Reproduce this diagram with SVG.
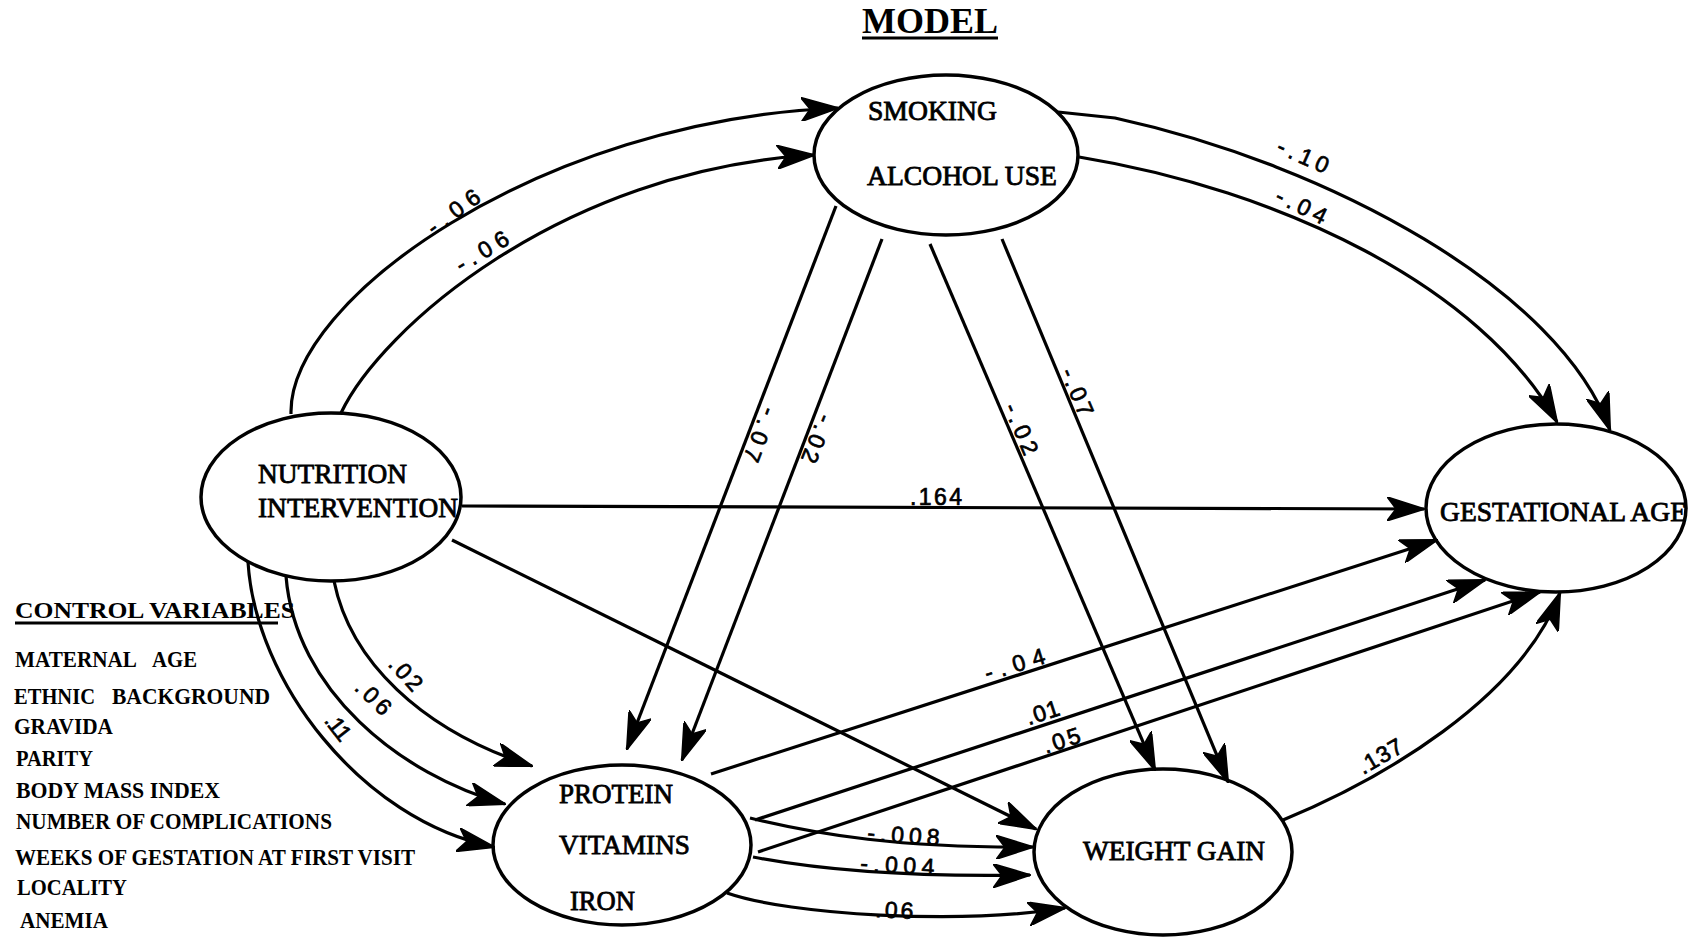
<svg xmlns="http://www.w3.org/2000/svg" width="1703" height="941" viewBox="0 0 1703 941">
  <defs>
    <marker id="arrow" markerUnits="userSpaceOnUse" markerWidth="38" markerHeight="24" viewBox="0 0 38 24" refX="37" refY="12" orient="auto">
      <path d="M0,0 L38,12 L0,24 L9,12 Z" fill="#000" stroke="#000" stroke-width="1.5" stroke-linejoin="round"/>
    </marker>
    <style>
      .node ellipse { fill: #fff; stroke: #000; stroke-width: 3.5; }
      .lbl { font-family: "Liberation Serif", "Times New Roman", serif; font-size: 27px; fill: #000; stroke: #000; stroke-width: 0.8; }
      .edge { fill: none; stroke: #000; stroke-width: 3.2; marker-end: url(#arrow); }
      .coef { font-family: "Liberation Sans", Arial, sans-serif; font-size: 23px; fill: #000; stroke: #000; stroke-width: 0.7; text-anchor: middle; }
      .ctl { font-family: "Liberation Serif", "Times New Roman", serif; font-weight: bold; font-size: 23px; fill: #000; }
      .rule { stroke: #000; stroke-width: 3; }
    </style>
  </defs>

  <rect width="1703" height="941" fill="#fff"/>

  <!-- title -->
  <g id="title">
    <text x="862" y="33" font-family="Liberation Serif, serif" font-weight="bold" font-size="36" textLength="136" lengthAdjust="spacingAndGlyphs">MODEL</text>
    <line class="rule" x1="862" y1="38" x2="998" y2="38"/>
  </g>

  <!-- nodes -->
  <g id="node-smoking" class="node">
    <ellipse cx="946" cy="155" rx="132" ry="80"/>
    <text class="lbl" x="868" y="120" textLength="129" lengthAdjust="spacingAndGlyphs">SMOKING</text>
    <text class="lbl" x="867" y="185" textLength="190" lengthAdjust="spacingAndGlyphs">ALCOHOL USE</text>
  </g>
  <g id="node-nutrition" class="node">
    <ellipse cx="331" cy="497" rx="130" ry="84"/>
    <text class="lbl" x="258" y="483" textLength="149" lengthAdjust="spacingAndGlyphs">NUTRITION</text>
    <text class="lbl" x="258" y="517" textLength="200" lengthAdjust="spacingAndGlyphs">INTERVENTION</text>
  </g>
  <g id="node-gestational" class="node">
    <ellipse cx="1556" cy="508" rx="130" ry="84"/>
    <text class="lbl" x="1440" y="521" textLength="247" lengthAdjust="spacingAndGlyphs">GESTATIONAL AGE</text>
  </g>
  <g id="node-protein" class="node">
    <ellipse cx="622" cy="845" rx="129" ry="80"/>
    <text class="lbl" x="559" y="803" textLength="114" lengthAdjust="spacingAndGlyphs">PROTEIN</text>
    <text class="lbl" x="559" y="854" textLength="131" lengthAdjust="spacingAndGlyphs">VITAMINS</text>
    <text class="lbl" x="570" y="910" textLength="65" lengthAdjust="spacingAndGlyphs">IRON</text>
  </g>
  <g id="node-weight" class="node">
    <ellipse cx="1163" cy="852" rx="129" ry="83"/>
    <text class="lbl" x="1083" y="860" textLength="182" lengthAdjust="spacingAndGlyphs">WEIGHT GAIN</text>
  </g>

  <!-- connectors -->
  <g id="connectors">
    <!-- nutrition -> smoking -->
    <path class="edge" d="M291,414 C288,300 540,120 838,108"/>
    <path class="edge" d="M341,413 C380,330 560,170 814,155"/>
    <!-- smoking -> gestational age -->
    <path class="edge" d="M1058,112 L1115,118 C1330,165 1560,290 1610,430"/>
    <path class="edge" d="M1079,157 C1280,190 1480,285 1557,422"/>
    <!-- smoking -> protein -->
    <path class="edge" d="M836,206 L627,749"/>
    <path class="edge" d="M882,239 L682,760"/>
    <!-- smoking -> weight gain -->
    <path class="edge" d="M930,244 L1155,770"/>
    <path class="edge" d="M1002,239 L1228,782"/>
    <!-- nutrition -> gestational age -->
    <path class="edge" d="M462,506 L1424,509"/>
    <!-- nutrition -> weight gain -->
    <path class="edge" d="M452,540 L1036,829"/>
    <!-- nutrition -> protein -->
    <path class="edge" d="M334,581 C350,660 420,730 532,766"/>
    <path class="edge" d="M286,576 C295,690 400,775 505,804"/>
    <path class="edge" d="M248,562 C255,680 360,820 494,847"/>
    <!-- protein -> gestational age -->
    <path class="edge" d="M711,774 L1437,540"/>
    <path class="edge" d="M755,820 L1485,580"/>
    <path class="edge" d="M758,852 L1540,592"/>
    <!-- protein -> weight gain -->
    <path class="edge" d="M750,818 C820,835 900,848 1033,847"/>
    <path class="edge" d="M753,857 C830,872 920,877 1030,875"/>
    <path class="edge" d="M727,893 C790,915 960,925 1065,908"/>
    <!-- weight gain -> gestational age -->
    <path class="edge" d="M1283,820 C1380,780 1520,700 1560,593"/>

    <!-- path coefficients -->
    <text class="coef" transform="translate(458,218) rotate(-36)" textLength="60" lengthAdjust="spacing">-.06</text>
    <text class="coef" transform="translate(486,258) rotate(-31)" textLength="58" lengthAdjust="spacing">-.06</text>
    <text class="coef" transform="translate(1300,163) rotate(24)" textLength="54" lengthAdjust="spacing">-.10</text>
    <text class="coef" transform="translate(1298,213) rotate(26)" textLength="54" lengthAdjust="spacing">-.04</text>
    <text class="coef" transform="translate(753,432) rotate(111)" textLength="56" lengthAdjust="spacing">-.07</text>
    <text class="coef" transform="translate(810,436) rotate(112)" textLength="50" lengthAdjust="spacing">-.02</text>
    <text class="coef" transform="translate(1014,432) rotate(67)" textLength="54" lengthAdjust="spacing">-.02</text>
    <text class="coef" transform="translate(1070,395) rotate(67)" textLength="50" lengthAdjust="spacing">-.07</text>
    <text class="coef" x="936" y="505" textLength="52" lengthAdjust="spacing">.164</text>
    <text class="coef" transform="translate(1017,672) rotate(-17)" textLength="62" lengthAdjust="spacing">-.04</text>
    <text class="coef" transform="translate(1045,720) rotate(-18)" textLength="34" lengthAdjust="spacing">.01</text>
    <text class="coef" transform="translate(1064,748) rotate(-18)" textLength="38" lengthAdjust="spacing">.05</text>
    <text class="coef" transform="translate(903,843) rotate(4)" textLength="72" lengthAdjust="spacing">-.008</text>
    <text class="coef" transform="translate(897,873) rotate(3)" textLength="74" lengthAdjust="spacing">-.004</text>
    <text class="coef" transform="translate(894,918) rotate(3)" textLength="38" lengthAdjust="spacing">.06</text>
    <text class="coef" transform="translate(1384,763) rotate(-30)" textLength="48" lengthAdjust="spacing">.137</text>
    <text class="coef" transform="translate(400,679) rotate(48)" textLength="38" lengthAdjust="spacing">.02</text>
    <text class="coef" transform="translate(368,703) rotate(44)" textLength="40" lengthAdjust="spacing">.06</text>
    <text class="coef" transform="translate(332,732) rotate(52)" textLength="28" lengthAdjust="spacing">.11</text>
  </g>

  <!-- control variables list -->
  <g id="control-variables">
    <text class="ctl" x="15" y="618" font-size="25" textLength="280" lengthAdjust="spacingAndGlyphs">CONTROL VARIABLES</text>
    <line class="rule" x1="15" y1="623" x2="278" y2="623"/>
    <text class="ctl" x="15" y="667" textLength="122" lengthAdjust="spacingAndGlyphs">MATERNAL</text>
    <text class="ctl" x="152" y="667" textLength="45" lengthAdjust="spacingAndGlyphs">AGE</text>
    <text class="ctl" x="14" y="704" textLength="81" lengthAdjust="spacingAndGlyphs">ETHNIC</text>
    <text class="ctl" x="112" y="704" textLength="158" lengthAdjust="spacingAndGlyphs">BACKGROUND</text>
    <text class="ctl" x="14" y="734" textLength="99" lengthAdjust="spacingAndGlyphs">GRAVIDA</text>
    <text class="ctl" x="16" y="766" textLength="77" lengthAdjust="spacingAndGlyphs">PARITY</text>
    <text class="ctl" x="16" y="798" textLength="204" lengthAdjust="spacingAndGlyphs">BODY MASS INDEX</text>
    <text class="ctl" x="16" y="829" textLength="316" lengthAdjust="spacingAndGlyphs">NUMBER OF COMPLICATIONS</text>
    <text class="ctl" x="15" y="865" textLength="400" lengthAdjust="spacingAndGlyphs">WEEKS OF GESTATION AT FIRST VISIT</text>
    <text class="ctl" x="17" y="895" textLength="110" lengthAdjust="spacingAndGlyphs">LOCALITY</text>
    <text class="ctl" x="20" y="928" textLength="88" lengthAdjust="spacingAndGlyphs">ANEMIA</text>
  </g>
</svg>
